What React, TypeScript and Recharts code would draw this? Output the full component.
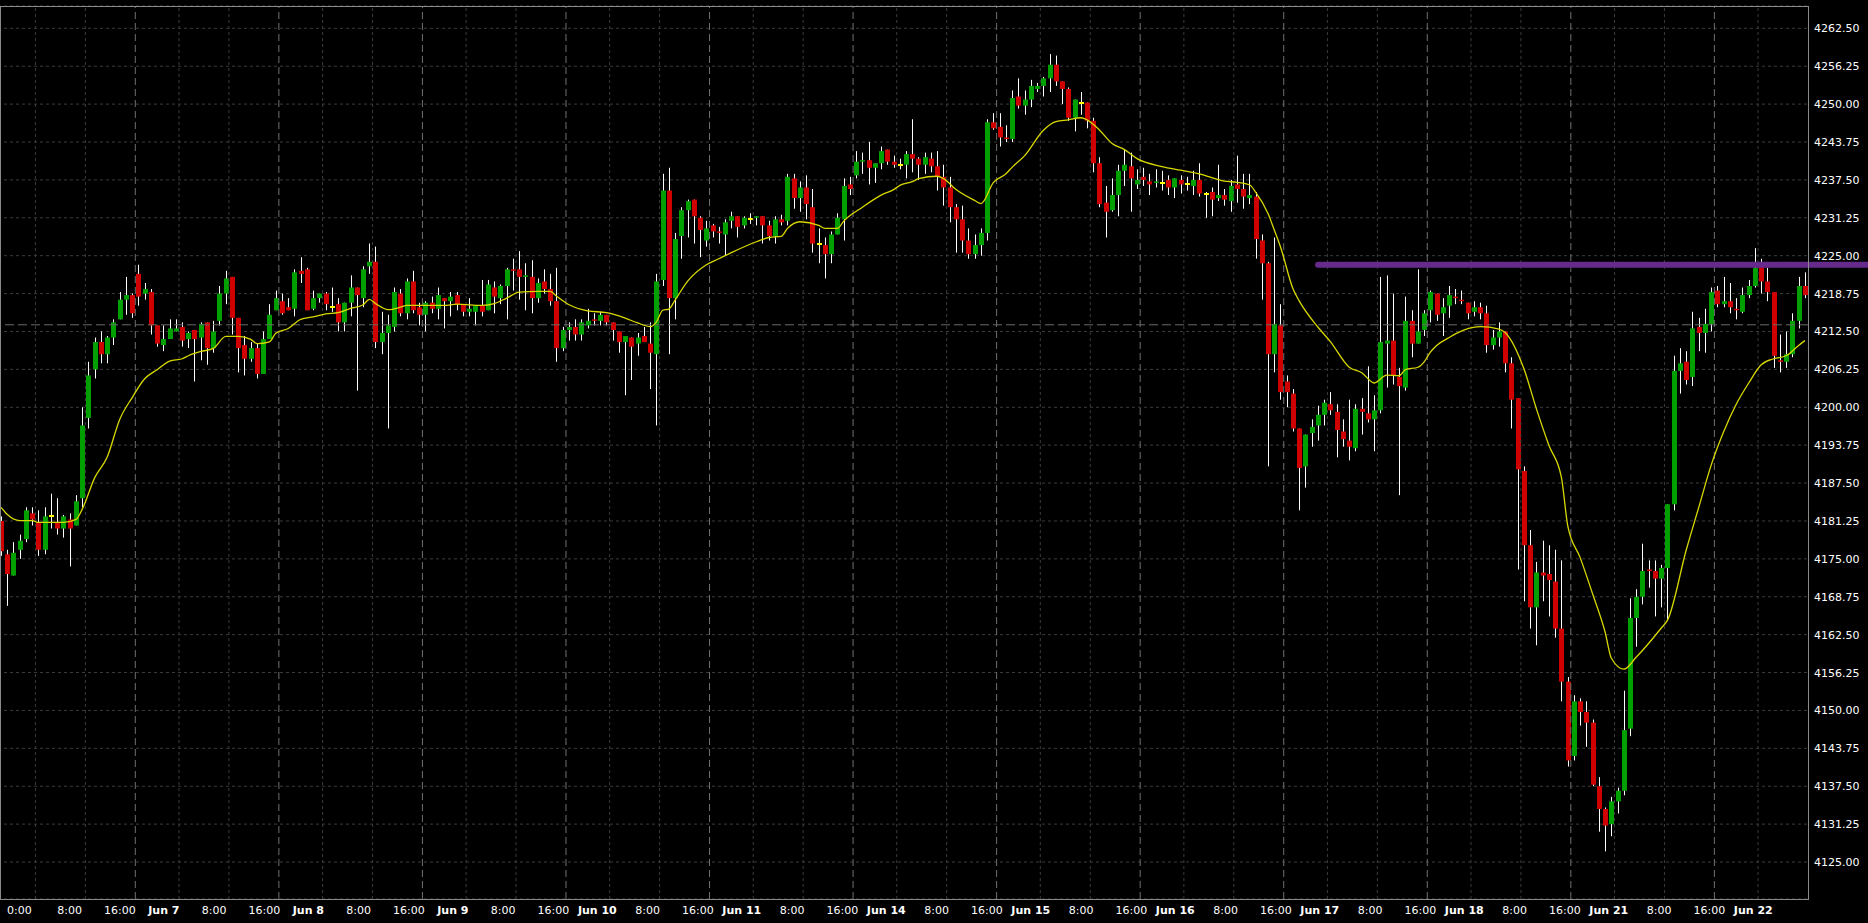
import React from "react";
import { ComposedChart, Bar, Line, XAxis, YAxis, CartesianGrid, ReferenceLine } from "recharts";

// hourly candles, index 0..289
const opens = [
  4181.25, 4175.75, 4172.25, 4176.5, 4178.25, 4182.5, 4181, 4176.5, 4182, 4181,
  4180, 4181.5, 4180.5, 4185, 4198.25, 4206.25, 4210.75, 4208.75, 4211.5, 4214.5,
  4217.75, 4218.5, 4222, 4218.75, 4219, 4213.5, 4210.25, 4211.25, 4212.5, 4213.25,
  4211.25, 4212.75, 4211.5, 4214, 4209.75, 4214.25, 4218.75, 4221.5, 4214.75, 4210.25,
  4208, 4209.75, 4205.5, 4211.25, 4216, 4217.5, 4216.5, 4216.25, 4222.5, 4222.75,
  4216.25, 4218, 4218.75, 4216.5, 4217, 4214, 4217.25, 4219.75, 4218, 4223.25,
  4224, 4210.75, 4212.25, 4213.25, 4218.75, 4215.5, 4220.75, 4216.5, 4215.25, 4217.25,
  4216.25, 4218, 4217.5, 4218.5, 4217, 4215.75, 4215.75, 4216.75, 4216, 4219.75,
  4218, 4220, 4222.75, 4222.75, 4221.5, 4221.5, 4218, 4220.75, 4219.5, 4217.5,
  4209.75, 4212.75, 4213.25, 4212, 4213.5, 4214.5, 4214.25, 4215.25, 4214, 4212.5,
  4210.75, 4211.5, 4210.5, 4211.75, 4210.5, 4208.75, 4221, 4235.75, 4218, 4228.25,
  4232.5, 4234.25, 4231.25, 4227.5, 4230, 4229, 4228.5, 4230.75, 4231.5, 4230,
  4231, 4231.25, 4231.5, 4230, 4228.25, 4231, 4230.75, 4237.75, 4234.5, 4236.25,
  4233, 4227, 4226.75, 4225.25, 4228.5, 4231, 4236.75, 4238.25, 4240.5, 4240.75,
  4239.5, 4240.25, 4242.5, 4240.5, 4240, 4240, 4241.75, 4241, 4240, 4241,
  4239.75, 4238, 4236.25, 4233, 4231, 4227.5, 4225.25, 4226.75, 4228.75, 4247,
  4246.25, 4244.5, 4244.25, 4251.25, 4249.75, 4250.75, 4252.5, 4253, 4254.25, 4256.5,
  4253.75, 4252.5, 4247.75, 4250.25, 4250.25, 4247.25, 4240.25, 4233.75, 4232.5, 4235,
  4239, 4239.75, 4236.75, 4238, 4237.25, 4237, 4237, 4237.5, 4236.25, 4237.5,
  4236.75, 4236.5, 4237.5, 4235.25, 4235.5, 4234.5, 4235, 4234, 4236.75, 4236,
  4234.5, 4234.75, 4227.5, 4223.75, 4208.75, 4213.5, 4204.25, 4202.25, 4196.5, 4190.25,
  4195.75, 4197, 4198.75, 4200.5, 4199.25, 4196, 4194.5, 4193.25, 4199.75, 4199,
  4198, 4199.5, 4210.5, 4211, 4205, 4203.25, 4214.25, 4210.5, 4212.75, 4216,
  4218.75, 4215.5, 4216.75, 4218.25, 4217.75, 4217.25, 4215.75, 4216.5, 4215.5, 4210.25,
  4211.5, 4212.5, 4207.25, 4201.5, 4189.5, 4177.25, 4167, 4172.75, 4172.5, 4171.25,
  4163.5, 4154.75, 4142.5, 4151.5, 4149.75, 4148, 4137.5, 4133.75, 4131.25, 4135,
  4136.75, 4147, 4165.25, 4168.75, 4173.25, 4173, 4171.75, 4173.5, 4184, 4206,
  4207.5, 4205, 4213.25, 4212.25, 4213.75, 4219.25, 4217, 4217.5, 4216.25, 4215.75,
  4218.5, 4220, 4223.5, 4220.75, 4219, 4207.75, 4207.5, 4208.75, 4214.25, 4220,
];

const highs = [
  4182, 4176.5, 4177.75, 4179, 4183.5, 4183.5, 4183, 4183.5, 4185.75, 4185,
  4182.25, 4182.5, 4185.5, 4200, 4207.5, 4211.5, 4212.5, 4211.75, 4214.5, 4219,
  4221.5, 4218.75, 4223.5, 4220.5, 4219.5, 4213.5, 4213.5, 4214.5, 4214.5, 4214,
  4212.5, 4212.75, 4214, 4214, 4214.25, 4220, 4222.5, 4221.5, 4214.75, 4211.75,
  4210.75, 4210.5, 4212.5, 4217, 4219.25, 4218.75, 4218, 4222.75, 4224.75, 4223,
  4219.25, 4218.75, 4219, 4219.75, 4218, 4217.25, 4221.75, 4219.75, 4223.25, 4227,
  4226.5, 4215.75, 4215.25, 4219.75, 4219.5, 4221.25, 4222.5, 4217.25, 4217.5, 4218.25,
  4219.75, 4218, 4219, 4219, 4217, 4218, 4216.75, 4221, 4221, 4220.75,
  4220.25, 4223, 4224.5, 4225.75, 4223.75, 4224.25, 4221.25, 4222.75, 4222, 4223,
  4213.25, 4214, 4214.5, 4214.5, 4216.25, 4215.5, 4215.75, 4215.25, 4214, 4212.5,
  4211.75, 4211.5, 4212.25, 4213.25, 4214, 4222, 4238.5, 4239.5, 4228.75, 4233,
  4234.25, 4234.25, 4231.5, 4230.75, 4230.25, 4229.75, 4231, 4232.25, 4231.5, 4231.5,
  4232, 4231.5, 4231.5, 4230.75, 4231.5, 4231.75, 4238.5, 4238.5, 4237.25, 4238.25,
  4236, 4229.5, 4228, 4229, 4232, 4237.75, 4238, 4242.25, 4242, 4243.75,
  4240.25, 4243, 4242.5, 4241.5, 4241, 4242.25, 4247.5, 4241.25, 4242, 4242,
  4242.25, 4240, 4238, 4233.5, 4233.25, 4229.5, 4228.5, 4229.5, 4247.5, 4248.5,
  4248.5, 4246.5, 4252.25, 4254.25, 4252.25, 4254, 4253.5, 4254.5, 4258.25, 4258,
  4253.75, 4252.75, 4250.75, 4252, 4250.25, 4247.75, 4241.25, 4236.5, 4237.75, 4240,
  4242.5, 4242, 4239.25, 4239.5, 4238.5, 4239.25, 4239, 4238.25, 4237.75, 4238.25,
  4238, 4239, 4240.25, 4235.5, 4236.25, 4240, 4236, 4237.5, 4241.5, 4238.5,
  4238.5, 4235.5, 4228.5, 4224, 4228, 4217, 4205.25, 4203, 4196.5, 4195.5,
  4198, 4200.25, 4201.25, 4202.5, 4200.5, 4198, 4201.25, 4200.5, 4201.5, 4206.75,
  4202, 4221.5, 4221.75, 4218.75, 4206.5, 4218.25, 4216, 4222.75, 4216, 4219.25,
  4218.75, 4218, 4220, 4219.5, 4219.25, 4217.25, 4217.5, 4217.25, 4216.75, 4212.75,
  4214, 4212.5, 4208.25, 4201.5, 4190.25, 4179.75, 4174.5, 4178, 4177.25, 4176.5,
  4174.75, 4155.5, 4152.5, 4152, 4151.5, 4148.5, 4139, 4134, 4135.75, 4137.25,
  4153.25, 4168.5, 4170, 4177.5, 4174.75, 4174.75, 4174, 4184, 4208.5, 4209.75,
  4209.25, 4215.75, 4214.75, 4216.25, 4219.75, 4220, 4221.5, 4220.5, 4218, 4219.75,
  4221, 4226.25, 4224.5, 4223, 4219, 4212, 4212.5, 4215.5, 4221.5, 4222.25,
];

const lows = [
  4175.5, 4167.25, 4172.25, 4175, 4177.75, 4180.5, 4175.5, 4175.75, 4180, 4179,
  4178.5, 4173.75, 4180.5, 4183.5, 4196.5, 4204.75, 4207.25, 4207.25, 4210.25, 4214.5,
  4215.25, 4214.75, 4216.75, 4217.75, 4212, 4210, 4209.25, 4211.25, 4212.5, 4210,
  4209.75, 4204.25, 4207.75, 4207, 4209, 4213.5, 4217, 4212, 4205.75, 4205.25,
  4207.5, 4204.75, 4205.5, 4211.25, 4216, 4215.25, 4216, 4215, 4220.5, 4216,
  4216, 4217.25, 4216, 4215.75, 4212.5, 4212.5, 4215, 4202.75, 4216.5, 4222,
  4209.75, 4208.75, 4196.5, 4212.5, 4215, 4214.5, 4215.5, 4213.5, 4212.5, 4215.5,
  4214.5, 4213, 4215, 4216, 4215, 4215, 4213.5, 4215, 4216, 4215.5,
  4217, 4214.5, 4219.25, 4217.75, 4216, 4215.5, 4217.25, 4218.75, 4216.75, 4207.5,
  4209.25, 4211, 4211, 4211, 4213, 4213.5, 4213.5, 4213.5, 4211, 4209,
  4202, 4204.5, 4208.5, 4210.75, 4203, 4197, 4220, 4208.75, 4214.5, 4224.5,
  4228, 4227, 4224.75, 4226.5, 4228, 4227, 4225, 4229.5, 4228, 4229.5,
  4230.25, 4230, 4227, 4227.5, 4227, 4230, 4230, 4232.75, 4232.25, 4231,
  4225.5, 4223.75, 4221.25, 4223.75, 4228.5, 4227.5, 4235, 4237.75, 4238.5, 4236.75,
  4237, 4239.25, 4240, 4239.5, 4239.25, 4237.75, 4238.75, 4237.5, 4238.5, 4238.75,
  4235.75, 4233.25, 4230.5, 4225.5, 4225.5, 4224.5, 4224.5, 4225, 4227.5, 4245.75,
  4243, 4243.75, 4243.75, 4249.25, 4248.25, 4249.5, 4252, 4251.25, 4252, 4253,
  4250, 4247.25, 4245.5, 4248.25, 4246, 4238.75, 4233, 4228, 4232.25, 4231.5,
  4236.5, 4232.25, 4236, 4236.5, 4235, 4236.25, 4235.75, 4235, 4234.5, 4235.25,
  4235.75, 4235, 4234.75, 4231.25, 4231.5, 4234, 4233.25, 4232.25, 4233.75, 4232.75,
  4233.5, 4224.5, 4217.75, 4190.25, 4205.75, 4201.25, 4200, 4196, 4183, 4186.75,
  4193.5, 4194.5, 4197, 4198.75, 4191.75, 4193.5, 4191.25, 4192.75, 4195.5, 4197.5,
  4192.75, 4199, 4203.25, 4203.75, 4185.5, 4202.75, 4208.25, 4210.5, 4211.75, 4214,
  4214.25, 4211.75, 4214.75, 4217, 4217, 4214.5, 4215, 4214.5, 4209, 4209.5,
  4210, 4205.75, 4196.5, 4173.25, 4168, 4163.5, 4160.75, 4168, 4165.5, 4162,
  4151.5, 4140.75, 4141.75, 4147.5, 4144, 4137.5, 4130, 4126.75, 4129.25, 4133,
  4136, 4145.75, 4160.5, 4167.5, 4170.25, 4165.5, 4167, 4164.75, 4183, 4202.25,
  4203.75, 4203.5, 4209.25, 4209, 4212.5, 4216.5, 4216.5, 4215.5, 4214.5, 4215.5,
  4218, 4219.75, 4218.75, 4217.5, 4206.5, 4205.75, 4206.5, 4208.25, 4213, 4218,
];

const closes = [
  4176.25, 4172.5, 4176, 4178, 4183, 4181.5, 4176.5, 4182, 4182, 4180,
  4182, 4180, 4184.5, 4197, 4205.25, 4210.75, 4208.75, 4211.5, 4214, 4217.75,
  4218.5, 4215.5, 4218.25, 4219.5, 4213.5, 4210.5, 4211.25, 4213, 4213, 4211,
  4212.25, 4211.25, 4213.75, 4209.75, 4212.5, 4218.75, 4221.25, 4214.75, 4209.75, 4208,
  4209.75, 4205.5, 4211.25, 4215.25, 4218, 4215.5, 4216, 4222.25, 4222, 4216,
  4218, 4218.75, 4217, 4216.5, 4214, 4217.25, 4219.75, 4218.5, 4222.75, 4224,
  4210.75, 4212.25, 4213.5, 4219, 4215.5, 4220.75, 4216, 4215.25, 4217.25, 4216.25,
  4218.5, 4217.5, 4218.25, 4217, 4215.75, 4216.25, 4216.75, 4215.75, 4220.25, 4218.25,
  4220, 4222.75, 4222.5, 4221.5, 4221.75, 4218, 4220.5, 4219.5, 4217.5, 4209.75,
  4212.75, 4213.25, 4212, 4214, 4214.25, 4214.25, 4215.25, 4214, 4212.75, 4210.75,
  4211.75, 4210, 4211.5, 4210.75, 4209, 4220.75, 4235.75, 4218, 4227.75, 4232.5,
  4234, 4231.5, 4229.25, 4229.5, 4229, 4228.75, 4230.5, 4231.5, 4229.75, 4231.25,
  4231, 4231.5, 4230, 4228.25, 4231, 4230.5, 4238, 4234.5, 4236.25, 4233.5,
  4227, 4227, 4225.25, 4228.5, 4231.25, 4236.5, 4236, 4240.5, 4240.75, 4239.5,
  4240.25, 4242.25, 4240.5, 4240, 4240, 4241.75, 4241, 4240, 4241.25, 4239.75,
  4238, 4236.25, 4233, 4231, 4227.5, 4225.25, 4226.75, 4228.75, 4247, 4246,
  4244.5, 4244.25, 4251, 4249.75, 4250.75, 4253, 4253, 4254.25, 4256.5, 4253.75,
  4252.5, 4247.75, 4250.75, 4250.25, 4247.25, 4240.25, 4233.5, 4232.25, 4235, 4239,
  4240, 4237.75, 4237.5, 4237.5, 4236.75, 4237.25, 4237, 4236.25, 4237.75, 4236.75,
  4236.75, 4237.5, 4235.25, 4235.25, 4234.25, 4235, 4234.25, 4236.5, 4236, 4234.75,
  4235, 4227.75, 4223.75, 4208.75, 4213.75, 4202.5, 4202.5, 4196.5, 4190, 4195.5,
  4196.75, 4198.75, 4200.75, 4199.5, 4196.25, 4194.75, 4193.5, 4199.75, 4199.25, 4198,
  4199.5, 4210.75, 4211, 4205.25, 4203.5, 4214.25, 4210.5, 4212.5, 4215.5, 4219,
  4215.25, 4216.5, 4218.5, 4218, 4217.5, 4215.5, 4216.5, 4215.5, 4210.25, 4211.5,
  4212.5, 4207.25, 4201.25, 4189.75, 4177.25, 4167, 4172.75, 4172.25, 4171.5, 4163.5,
  4154.75, 4141.75, 4151.5, 4149.75, 4148, 4137.75, 4133.75, 4131, 4135, 4136.75,
  4146.75, 4165.25, 4168.75, 4173, 4173, 4171.75, 4173.5, 4184, 4206, 4207.25,
  4204.5, 4213, 4212.25, 4213.75, 4219, 4217, 4217.5, 4216.5, 4216, 4218.5,
  4220, 4223, 4220.75, 4219, 4208.5, 4207.5, 4208.75, 4214.25, 4220, 4218.5,
];

// moving average: [candle index, value]
const maPoints: [number, number][] = [
  [0, 4183.5], [1, 4182.3], [3, 4181.3], [5, 4181.3], [6, 4181.0], [10, 4181.0], [12, 4181.5],
  [13, 4183.2], [15, 4188.4], [17, 4191.8], [19, 4198.0], [21, 4201.6], [23, 4204.7], [25, 4206.2],
  [27, 4207.6], [29, 4208.0], [30, 4208.5], [32, 4209.2], [34, 4209.7], [36, 4211.7], [38, 4211.7],
  [40, 4211.2], [41, 4210.5], [43, 4210.8], [44, 4212.2], [46, 4213.0], [48, 4214.5], [50, 4214.9],
  [52, 4215.4], [54, 4215.6], [56, 4216.3], [58, 4216.9], [59, 4217.8], [60, 4217.1], [62, 4216.1],
  [64, 4216.5], [65, 4216.8], [71, 4216.8], [73, 4217.0], [77, 4216.8], [79, 4217.1], [81, 4218.0],
  [83, 4219.0], [86, 4219.1], [88, 4219.1], [89, 4218.3], [91, 4216.9], [94, 4215.9], [97, 4215.6],
  [100, 4214.7], [102, 4213.9], [104, 4213.3], [105, 4214.1], [106, 4216.0], [107, 4216.2],
  [108, 4217.7], [110, 4220.8], [113, 4223.5], [115, 4224.5], [117, 4225.5], [121, 4227.3],
  [123, 4228.0], [125, 4228.2], [126, 4229.5], [128, 4230.6], [131, 4230.0], [132, 4229.5],
  [134, 4229.5], [135, 4230.7], [138, 4233.0], [141, 4235.0], [143, 4235.9], [144, 4236.6],
  [146, 4237.2], [147, 4237.7], [150, 4238.1], [151, 4237.7], [153, 4235.9], [156, 4234.1],
  [157, 4233.6], [159, 4237.1], [161, 4238.5], [162, 4239.6], [164, 4241.5], [167, 4245.7],
  [169, 4247.1], [171, 4247.4], [173, 4247.75], [174, 4247.4], [176, 4245.7], [178, 4243.5],
  [180, 4242.5], [182, 4241.0], [186, 4239.7], [189, 4239.1], [192, 4238.5], [196, 4237.3],
  [198, 4237.1], [200, 4236.7], [201, 4235.5], [203, 4231.9], [204, 4229.2], [205, 4226.4],
  [207, 4219.5], [208, 4217.5], [211, 4213.2], [213, 4210.8], [216, 4206.6], [218, 4205.7],
  [220, 4204.0], [222, 4205.3], [224, 4205.2], [225, 4206.2], [227, 4206.6], [228, 4207.5],
  [229, 4209.1], [230, 4210.2], [232, 4211.5], [233, 4212.1], [237, 4213.3], [240, 4212.9],
  [241, 4212.3], [244, 4206.3], [246, 4199.7], [248, 4193.7], [250, 4188.4], [251, 4180.5],
  [253, 4175.2], [255, 4169.2], [257, 4162.9], [258, 4158.6], [260, 4156.8], [262, 4158.8],
  [266, 4163.6], [267, 4164.9], [270, 4176.5], [272, 4183.5], [274, 4190.5], [276, 4196.0],
  [278, 4200.5], [280, 4204.0], [282, 4207.0], [284, 4208.0], [286, 4208.5], [288, 4210.2],
  [289, 4211.0],
];

const priceTicks = [
  4125, 4131.25, 4137.5, 4143.75, 4150, 4156.25, 4162.5, 4168.75, 4175, 4181.25, 4187.5, 4193.75,
  4200, 4206.25, 4212.5, 4218.75, 4225, 4231.25, 4237.5, 4243.75, 4250, 4256.25, 4262.5,
];

const timeTickIndex = [
  5, 13, 21, 28, 36, 44, 51, 59, 67, 74, 82, 90, 97, 105, 113, 120, 128, 136, 143, 151, 159,
  166, 174, 182, 189, 197, 205, 212, 220, 228, 235, 243, 251, 258, 266, 274, 281,
];
const timeTickLabels = [
  "0:00", "8:00", "16:00", "Jun 7", "8:00", "16:00", "Jun 8", "8:00", "16:00", "Jun 9", "8:00",
  "16:00", "Jun 10", "8:00", "16:00", "Jun 11", "8:00", "16:00", "Jun 14", "8:00", "16:00",
  "Jun 15", "8:00", "16:00", "Jun 16", "8:00", "16:00", "Jun 17", "8:00", "16:00", "Jun 18",
  "8:00", "16:00", "Jun 21", "8:00", "16:00", "Jun 22",
];
const sessionBreaks = [21, 44, 67, 90, 113, 136, 159, 182, 205, 228, 251, 274];

const bidPrice = 4213.6;
const levelPrice = 4223.5;
const levelStart = 211;
const levelEnd = 289;

const GREEN = "#00a000";
const RED = "#d00000";
const DOJI = "#ffff00";
const FONT = "DejaVu Sans, Verdana, sans-serif";

const CHART_W = 1870;
const AXIS_W = 60;
// grid lines sit between two bars, half a slot right of the bar centre
const HALF_SLOT = (CHART_W - AXIS_W) / opens.length / 2;
// time labels are centred a bit left of their grid line, creeping right along the axis
const LABEL_SHIFT = -16.3;
const LABEL_CREEP = 0.041;

const rows = opens.map((open, i) => ({
  i,
  open,
  high: highs[i],
  low: lows[i],
  close: closes[i],
  range: [lows[i], highs[i]],
  ma: null as number | null,
}));
maPoints.forEach(([idx, v]) => {
  rows[idx].ma = v;
});

function Candle(props: any) {
  const { x, y, width, height, payload } = props;
  if (x == null || payload == null) return null;
  const { open, close, high, low } = payload;
  const top = height < 0 ? y + height : y;
  const h = Math.abs(height);
  const k = high > low ? h / (high - low) : 0;
  const py = (p: number) => top + (high - p) * k;
  const left = Math.round(x + width / 2 - 2.5);
  const wx = left + 2.5;
  const bTop = py(Math.max(open, close));
  const bBot = py(Math.min(open, close));
  const doji = open === close;
  return (
    <g>
      <line x1={wx} x2={wx} y1={top} y2={top + h} stroke="#ffffff" strokeWidth={1} />
      {doji ? (
        <rect x={left} y={Math.round(bTop) - 1} width={5} height={2} fill={DOJI} />
      ) : (
        <rect x={left} y={bTop} width={5} height={Math.max(1, bBot - bTop)} fill={close > open ? GREEN : RED} />
      )}
    </g>
  );
}

function PriceTick(props: any) {
  const { x, y, payload } = props;
  return (
    <text x={x} y={y} dy={4} fill="#ffffff" fontSize={11} fontFamily={FONT} textAnchor="start">
      {Number(payload.value).toFixed(2)}
    </text>
  );
}

function TimeTick(props: any) {
  const { x, y, payload } = props;
  const label = timeTickLabels[timeTickIndex.indexOf(payload.value)] ?? "";
  const isDay = label.startsWith("Jun");
  return (
    <text
      x={x + HALF_SLOT + LABEL_SHIFT + LABEL_CREEP * payload.value}
      y={y}
      dy={15}
      fill="#ffffff"
      fontSize={11}
      fontWeight={isDay ? "bold" : "normal"}
      fontFamily={FONT}
      textAnchor="middle"
    >
      {label}
    </text>
  );
}

function makeVLine(stroke: string, dash: string) {
  return (props: any) => {
    const { x1, y1, x2, y2 } = props;
    if (x1 == null) return null;
    return (
      <line
        x1={x1 + HALF_SLOT}
        x2={x2 + HALF_SLOT}
        y1={y1}
        y2={y2}
        stroke={stroke}
        strokeWidth={1}
        strokeDasharray={dash}
      />
    );
  };
}
const GridVLine = makeVLine("#3c3c3c", "3 3");
const SessionVLine = makeVLine("#707070", "7 4");

function LevelLine(props: any) {
  const { x1, y1, x2, y2 } = props;
  if (x1 == null) return null;
  return (
    <line x1={x1} y1={y1} x2={x2 + 80} y2={y2} stroke="#662a8c" strokeWidth={6} strokeLinecap="round" />
  );
}

export default function App() {
  return (
    <div
      style={{
        position: "absolute",
        left: 0,
        top: 0,
        width: 1868,
        height: 923,
        background: "#000000",
        overflow: "hidden",
      }}
    >
      <div style={{ position: "absolute", left: -2, top: 0 }}>
        <ComposedChart width={CHART_W} height={923} data={rows} margin={{ top: 6, right: 0, bottom: 0, left: 0 }}>
          <CartesianGrid stroke="#3c3c3c" strokeDasharray="3 3" vertical={false} />
          <XAxis
            dataKey="i"
            type="category"
            ticks={timeTickIndex}
            interval={0}
            height={24}
            axisLine={false}
            tickLine={false}
            tickSize={0}
            tickMargin={0}
            tick={<TimeTick />}
          />
          <YAxis
            orientation="right"
            type="number"
            domain={[4118.9, 4266.18]}
            allowDataOverflow
            ticks={priceTicks}
            interval={0}
            width={AXIS_W}
            axisLine={false}
            tickLine={false}
            tickSize={6}
            tickMargin={0}
            tick={<PriceTick />}
          />
          {timeTickIndex
            .filter((t) => !sessionBreaks.includes(t))
            .map((t) => (
              <ReferenceLine key={"g" + t} x={t} shape={GridVLine} />
            ))}
          {sessionBreaks.map((b) => (
            <ReferenceLine key={"s" + b} x={b} shape={SessionVLine} />
          ))}
          <ReferenceLine y={bidPrice} stroke="#6a6a6a" strokeDasharray="9 4" />
          <Bar dataKey="range" barSize={5} shape={Candle} isAnimationActive={false} />
          <Line
            dataKey="ma"
            type="monotone"
            stroke="#d8d800"
            strokeWidth={1.3}
            dot={false}
            activeDot={false}
            connectNulls
            isAnimationActive={false}
          />
          <ReferenceLine
            segment={[
              { x: levelStart, y: levelPrice },
              { x: levelEnd, y: levelPrice },
            ]}
            ifOverflow="visible"
            shape={LevelLine}
          />
        </ComposedChart>
      </div>
      <div
        style={{
          position: "absolute",
          left: 0,
          top: 6,
          width: 1809,
          height: 894,
          border: "1px solid #8a8a8a",
          boxSizing: "border-box",
          pointerEvents: "none",
        }}
      />
    </div>
  );
}
